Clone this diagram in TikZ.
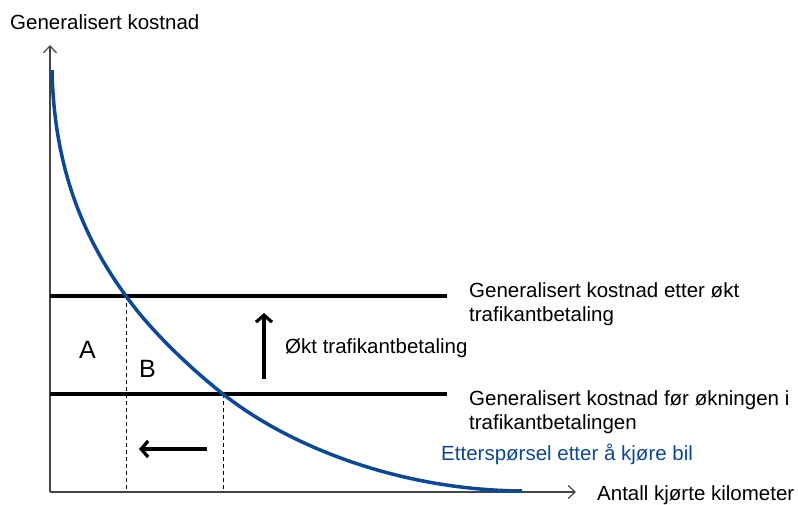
\documentclass[tikz,border=0pt]{standalone}
\usepackage{fontspec}
\setmainfont{Liberation Sans}
\usetikzlibrary{arrows.meta}
\definecolor{curveblue}{RGB}{12,72,150}
\definecolor{axisgray}{RGB}{70,70,70}
\begin{document}
\begin{tikzpicture}[x=1pt,y=-1pt,
  lbl/.style={anchor=base west,inner sep=0pt,font=\fontsize{20.5}{24}\selectfont},
  arealbl/.style={anchor=base west,inner sep=0pt,font=\fontsize{25}{28}\selectfont},
  axisline/.style={draw=axisgray,line width=1.2pt,-{Straight Barb[length=7pt,width=13pt,line width=1.2pt]}},
  costline/.style={draw=black,line width=3.5pt},
  guide/.style={draw=black,line width=0.9pt,dash pattern=on 4pt off 3pt},
  movearrow/.style={draw=black,line width=3.2pt,-{Straight Barb[length=7pt,width=16pt,line width=3.2pt]}},
  demand/.style={draw=curveblue,line width=3.5pt}]
\useasboundingbox (0,0) rectangle (798,505);
% axes
\coordinate (O) at (50,492);
\coordinate (ytop) at (50,45);
\coordinate (xend) at (576,492);
\draw[axisline] (O) -- (ytop);
\draw[axisline] (O) -- (xend);
% cost lines
\coordinate (u1) at (50,296);
\coordinate (u2) at (447,296);
\coordinate (l1) at (50,394);
\coordinate (l2) at (447,394);
\draw[costline] (u1) -- (u2);
\draw[costline] (l1) -- (l2);
% guides
\coordinate (p1) at (126,296);
\coordinate (p1b) at (126,492);
\coordinate (p2) at (223,394);
\coordinate (p2b) at (223,492);
\draw[guide] (p1) -- (p1b);
\draw[guide] (p2) -- (p2b);
% demand curve
\draw[demand] (52,70) .. controls (54,170) and (85,240) .. (126,296)
  .. controls (150,330) and (190,368) .. (223,394)
  .. controls (290,447) and (400,490) .. (522,491);
% arrows
\coordinate (ua) at (264,379);
\coordinate (ub) at (264,313);
\draw[movearrow] (ua) -- (ub);
\coordinate (la) at (207,449);
\coordinate (lb) at (139,449);
\draw[movearrow] (la) -- (lb);
% labels
\node[lbl] (ylab) at (10,30) {Generalisert kostnad};
\node[lbl] (xlab) at (597,500) {Antall kjørte kilometer};
\node[arealbl] (A) at (79,358) {A};
\node[arealbl] (B) at (139,377) {B};
\node[lbl] (okt) at (285,353) {Økt trafikantbetaling};
\node[lbl] (after1) at (469,297) {Generalisert kostnad etter økt};
\node[lbl] (after2) at (469,321) {trafikantbetaling};
\node[lbl] (before1) at (469,405) {Generalisert kostnad før økningen i};
\node[lbl] (before2) at (469,429) {trafikantbetalingen};
\node[lbl,text=curveblue] (dem) at (441,460) {Etterspørsel etter å kjøre bil};
\end{tikzpicture}
\end{document}
